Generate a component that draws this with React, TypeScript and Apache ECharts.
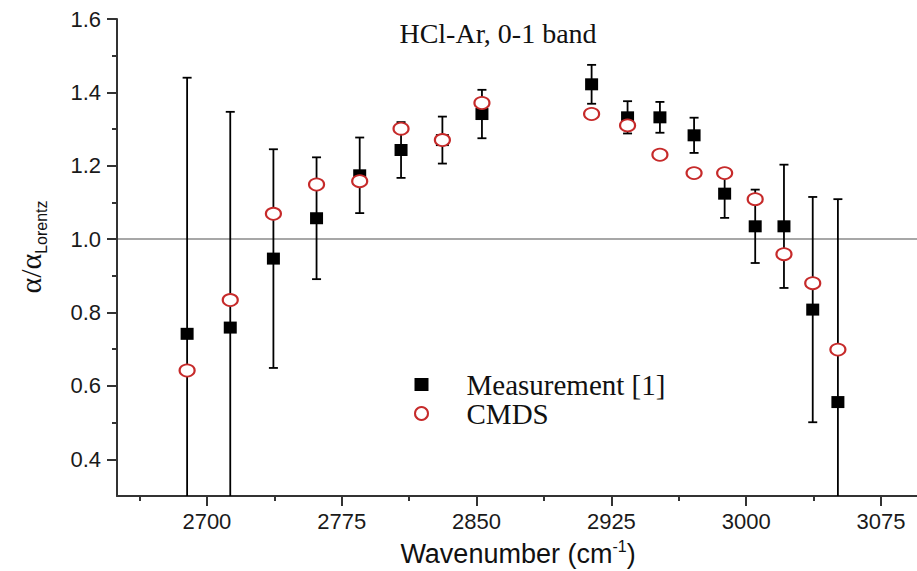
import React, { useEffect, useRef } from "react";
import * as echarts from "echarts";

// Wavenumbers (cm^-1)
const wavenumbers = [2689, 2713, 2737, 2761, 2785, 2808, 2831, 2853, 2914, 2934, 2952, 2971, 2988, 3005, 3021, 3037, 3051];
// Measurement [1] values (alpha / alpha_Lorentz)
const measurement = [0.742, 0.759, 0.947, 1.057, 1.174, 1.243, 1.270, 1.341, 1.422, 1.332, 1.332, 1.283, 1.124, 1.035, 1.035, 0.808, 0.556];
// Measurement error (half-length of error bar)
const measurementErr = [0.698, 0.588, 0.298, 0.166, 0.103, 0.076, 0.064, 0.066, 0.053, 0.044, 0.042, 0.048, 0.066, 0.100, 0.168, 0.307, 0.553];
// CMDS values
const cmds = [0.642, 0.834, 1.069, 1.149, 1.158, 1.301, 1.270, 1.371, 1.341, 1.310, 1.230, 1.180, 1.180, 1.109, 0.959, 0.880, 0.699];

// Axis ticks
const xMajorTicks = [2700, 2775, 2850, 2925, 3000, 3075];
const xMinorTicks = [2662.5, 2737.5, 2812.5, 2887.5, 2962.5, 3037.5];
const yMajorTicks = [0.4, 0.6, 0.8, 1.0, 1.2, 1.4, 1.6];
const yMinorTicks = [0.5, 0.7, 0.9, 1.1, 1.3, 1.5];

const SANS = "'Liberation Sans', Arial, sans-serif";
const SERIF = "'Liberation Serif', 'Times New Roman', serif";
const AXIS_COLOR = "#333";

export default function App() {
  const ref = useRef<HTMLDivElement>(null);

  useEffect(() => {
    if (!ref.current) return;
    const chart = echarts.init(ref.current, undefined, { renderer: "svg" });

    const errData = wavenumbers.map((x, i) => [x, measurement[i] - measurementErr[i], measurement[i] + measurementErr[i]]);
    const measData = wavenumbers.map((x, i) => [x, measurement[i]]);
    const cmdsData = wavenumbers.map((x, i) => [x, cmds[i]]);

    const xCommon = { type: "value", min: 2650, max: 3095, splitLine: { show: false } };
    const yCommon = { type: "value", min: 0.3, max: 1.6, splitLine: { show: false } };

    chart.setOption({
      animation: false,
      backgroundColor: "#fff",
      grid: { left: 117, right: 0, top: 19, bottom: 75, containLabel: false },
      xAxis: [
        {
          ...xCommon,
          position: "bottom",
          axisLine: { show: true, lineStyle: { color: AXIS_COLOR, width: 2 } },
          axisTick: { show: true, customValues: xMajorTicks, length: 10, lineStyle: { color: AXIS_COLOR, width: 2 } },
          axisLabel: {
            customValues: xMajorTicks,
            margin: 14,
            fontSize: 22,
            fontFamily: SANS,
            color: "#1a1a1a",
            formatter: (v: number) => String(v),
          },
        },
        {
          ...xCommon,
          position: "bottom",
          axisLine: { show: false },
          axisTick: { show: true, customValues: xMinorTicks, length: 5, lineStyle: { color: AXIS_COLOR, width: 2 } },
          axisLabel: { show: false },
        },
      ],
      yAxis: [
        {
          ...yCommon,
          position: "left",
          axisLine: { show: true, lineStyle: { color: AXIS_COLOR, width: 2 } },
          axisTick: { show: true, customValues: yMajorTicks, length: 10, lineStyle: { color: AXIS_COLOR, width: 2 } },
          axisLabel: {
            customValues: yMajorTicks,
            margin: 16,
            fontSize: 22,
            fontFamily: SANS,
            color: "#1a1a1a",
            formatter: (v: number) => v.toFixed(1),
          },
        },
        {
          ...yCommon,
          position: "left",
          axisLine: { show: false },
          axisTick: { show: true, customValues: yMinorTicks, length: 5, lineStyle: { color: AXIS_COLOR, width: 2 } },
          axisLabel: { show: false },
        },
      ],
      legend: {
        orient: "vertical",
        left: 409,
        top: 365,
        padding: 5,
        itemWidth: 14,
        itemHeight: 13,
        itemGap: 0,
        symbolKeepAspect: true,
        textStyle: { fontSize: 29, fontFamily: SERIF, color: "#111", lineHeight: 27, padding: [0, 0, 0, 33] },
        data: ["Measurement [1]", "CMDS"],
      },
      series: [
        {
          name: "error",
          type: "custom",
          xAxisIndex: 0,
          yAxisIndex: 0,
          clip: true,
          z: 1,
          data: errData,
          renderItem: (params: any, api: any) => {
            const x = api.value(0);
            const lo = api.value(1);
            const hi = api.value(2);
            const pHi = api.coord([x, hi]);
            const pLo = api.coord([x, lo]);
            const hw = 4.5;
            const style = { stroke: "#000", lineWidth: 1.8 };
            return {
              type: "group",
              children: [
                { type: "line", shape: { x1: pHi[0], y1: pHi[1], x2: pLo[0], y2: pLo[1] }, style },
                { type: "line", shape: { x1: pHi[0] - hw, y1: pHi[1], x2: pHi[0] + hw, y2: pHi[1] }, style },
                { type: "line", shape: { x1: pLo[0] - hw, y1: pLo[1], x2: pLo[0] + hw, y2: pLo[1] }, style },
              ],
            };
          },
          silent: true,
        },
        {
          name: "Measurement [1]",
          type: "scatter",
          xAxisIndex: 0,
          yAxisIndex: 0,
          z: 2,
          symbol: "rect",
          symbolSize: [13, 12],
          itemStyle: { color: "#000", opacity: 1 },
          data: measData,
          markLine: {
            silent: true,
            symbol: "none",
            label: { show: false },
            lineStyle: { color: "#8a8a8a", type: "solid", width: 1.5 },
            data: [{ yAxis: 1.0 }],
            z: 0,
          },
        },
        {
          name: "CMDS",
          type: "scatter",
          xAxisIndex: 0,
          yAxisIndex: 0,
          z: 3,
          symbol: "emptyCircle",
          symbolSize: [15, 12],
          itemStyle: { color: "#c62a2a", borderColor: "#c62a2a", borderWidth: 1.6, opacity: 1 },
          data: cmdsData,
        },
      ],
      graphic: [
        {
          type: "text",
          x: 498,
          y: 33,
          style: {
            text: "HCl-Ar, 0-1 band",
            fontSize: 28,
            fontFamily: SERIF,
            fill: "#111",
            align: "center",
            verticalAlign: "middle",
          },
        },
        {
          type: "text",
          x: 518,
          y: 554,
          style: {
            text: "{a|Wavenumber (cm}{s|-1}{a|)}",
            align: "center",
            verticalAlign: "middle",
            rich: {
              a: { fontSize: 27, fontFamily: SANS, fill: "#111", lineHeight: 32, verticalAlign: "middle" },
              s: { fontSize: 16, fontFamily: SANS, fill: "#111", lineHeight: 15, verticalAlign: "top" },
            },
          },
        },
        {
          type: "text",
          x: 30,
          y: 247,
          rotation: Math.PI / 2,
          style: {
            text: "{a|α/α}{s|Lorentz}",
            align: "center",
            verticalAlign: "middle",
            rich: {
              a: { fontSize: 30, fontFamily: SERIF, fill: "#111", lineHeight: 38, verticalAlign: "middle" },
              s: { fontSize: 16, fontFamily: SANS, fill: "#111", lineHeight: 16, verticalAlign: "bottom" },
            },
          },
        },
      ],
    });

    return () => chart.dispose();
  }, []);

  return <div ref={ref} style={{ position: "fixed", left: 0, top: 0, width: 917, height: 571 }} />;
}
